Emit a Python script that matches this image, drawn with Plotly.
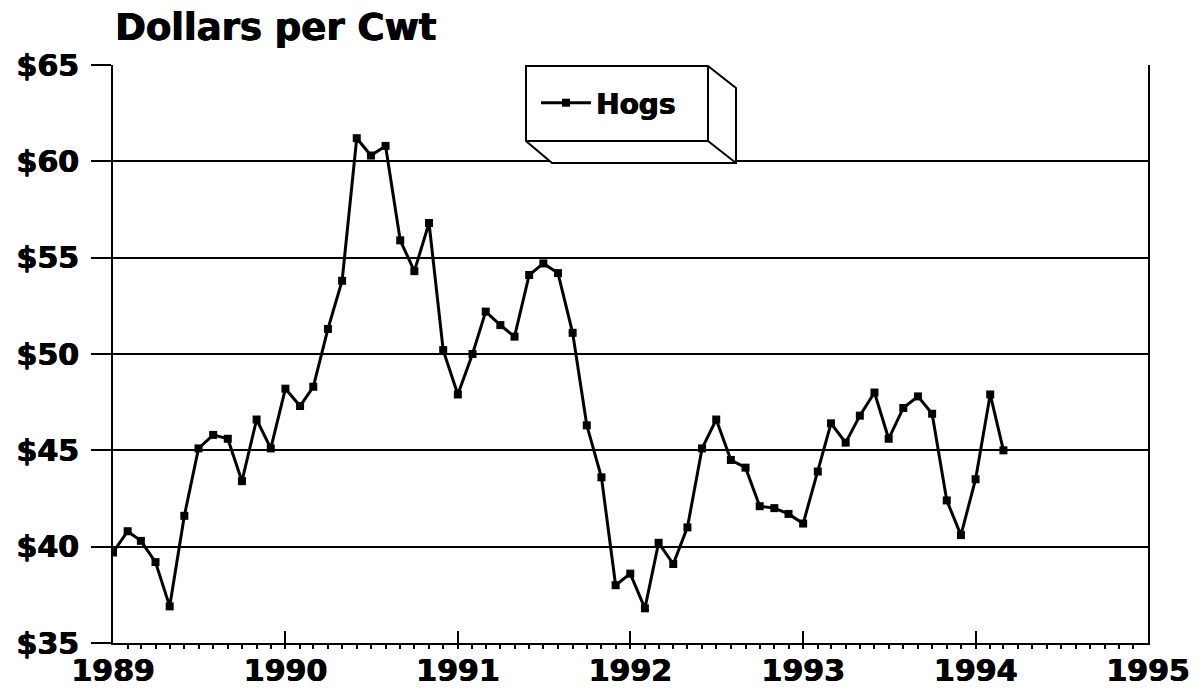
import plotly.graph_objects as go
import pandas as pd

# ---- data (monthly hog prices, $/cwt, Jan 1989 - Mar 1994) ----
series_name = "Hogs"
start_month = "1989-01-01"
hog_prices = [
    39.7, 40.8, 40.3, 39.2, 36.9, 41.6, 45.1, 45.8, 45.6, 43.4, 46.6, 45.1,   # 1989
    48.2, 47.3, 48.3, 51.3, 53.8, 61.2, 60.3, 60.8, 55.9, 54.3, 56.8, 50.2,   # 1990
    47.9, 50.0, 52.2, 51.5, 50.9, 54.1, 54.7, 54.2, 51.1, 46.3, 43.6, 38.0,   # 1991
    38.6, 36.8, 40.2, 39.1, 41.0, 45.1, 46.6, 44.5, 44.1, 42.1, 42.0, 41.7,   # 1992
    41.2, 43.9, 46.4, 45.4, 46.8, 48.0, 45.6, 47.2, 47.8, 46.9, 42.4, 40.6,   # 1993
    43.5, 47.9, 45.0,                                                           # 1994
]
y_ticks = [35, 40, 45, 50, 55, 60, 65]
y_tick_labels = ["$35", "$40", "$45", "$50", "$55", "$60", "$65"]
x_range = ["1989-01-01", "1995-01-01"]
title_text = "Dollars per Cwt"

months = pd.date_range(start_month, periods=len(hog_prices), freq="MS")

# ---- layout geometry (page pixels; body margin removed) ----
W, H = 1202, 697
L, R, T, B = 113, 1148, 65, 643   # plot area in page pixels

def px(x):
    return (x - L) / (R - L)

def py(y):
    return (B - y) / (B - T)

FONT = "DejaVu Sans"
SHADOW = "0.7px 0 0 black, -0.3px 0 0 black"

fig = go.Figure()
fig.add_trace(go.Scatter(
    x=months, y=hog_prices, name=series_name, mode="lines+markers",
    line=dict(color="black", width=3),
    marker=dict(symbol="square", size=8, color="black"),
))

# 3-D legend box
box_pts = [(526, 66), (708, 66), (736, 88), (736, 163), (552, 163), (526, 141)]
path = "M " + " L ".join(f"{px(a):.5f},{py(b):.5f}" for a, b in box_pts) + " Z"
shapes = [
    dict(type="path", xref="paper", yref="paper", path=path,
         fillcolor="white", line=dict(color="black", width=2), layer="above"),
]
for (x0, y0, x1, y1) in [(708, 66, 708, 141), (526, 141, 708, 141), (708, 141, 736, 163)]:
    shapes.append(dict(type="line", xref="paper", yref="paper",
                       x0=px(x0), y0=py(y0), x1=px(x1), y1=py(y1),
                       line=dict(color="black", width=2), layer="above"))

fig.update_layout(
    width=W, height=H,
    margin=dict(l=L, r=W - R, t=T, b=H - B, pad=0, autoexpand=False),
    paper_bgcolor="white", plot_bgcolor="white",
    showlegend=True,
    legend=dict(x=px(536), y=py(103), xanchor="left", yanchor="middle",
                bgcolor="rgba(0,0,0,0)", borderwidth=0,
                font=dict(family=FONT, size=28, color="black", weight="bold", shadow=SHADOW),
                itemwidth=50),
    shapes=shapes,
    annotations=[dict(text=title_text, xref="paper", yref="paper", x=0, y=1,
                      xanchor="left", yanchor="bottom", xshift=0, yshift=14,
                      showarrow=False,
                      font=dict(family=FONT, size=37, color="black", weight="bold", shadow=SHADOW))],
    xaxis=dict(
        type="date", range=x_range, dtick="M12", tickformat="%Y",
        ticks="inside", ticklen=12, tickwidth=2, tickcolor="black",
        showline=True, linecolor="black", linewidth=2, mirror=False,
        showgrid=False, zeroline=False,
        tickfont=dict(family=FONT, size=30, color="black", weight="bold", shadow=SHADOW),
        minor=dict(dtick="M1", ticks="outside", ticklen=4, tickwidth=1.5,
                   tickcolor="black", showgrid=False),
    ),
    yaxis=dict(
        range=[35, 65], tickvals=y_ticks, ticktext=y_tick_labels,
        ticks="outside", ticklen=20, tickwidth=2, tickcolor="black",
        ticklabelstandoff=6,
        showline=True, linecolor="black", linewidth=2, mirror=True,
        showgrid=True, gridcolor="black", gridwidth=2, zeroline=False,
        tickfont=dict(family=FONT, size=30, color="black", weight="bold", shadow=SHADOW),
    ),
)

fig.write_html("out.html", config={"displayModeBar": False},
               post_script="document.body.style.margin='0';")
